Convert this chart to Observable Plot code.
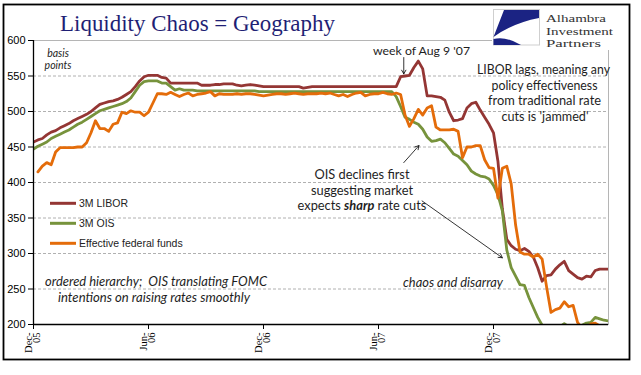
<!DOCTYPE html>
<html>
<head>
<meta charset="utf-8">
<script src="https://cdn.jsdelivr.net/npm/d3@7"></script>
<script src="https://cdn.jsdelivr.net/npm/@observablehq/plot@0.6"></script>
<style>
  html, body { margin: 0; padding: 0; background: #fff; }
  #wrap { position: relative; width: 641px; height: 375px; overflow: hidden; }
  #wrap > svg { position: absolute; left: 0; top: 0; }
  #overlay { pointer-events: none; }
</style>
</head>
<body>
<div id="wrap"></div>
<script>
// ---- data (weekly, basis points) ----
const startDate = new Date(Date.UTC(2005, 11, 16));
const seriesNames = ["3M LIBOR", "3M OIS", "Effective federal funds"];
const seriesColors = ["#943634", "#77933C", "#E46C0A"];

const libor = [
  457,460,462,467,471,473,477,480,483,487,
  490,493,496,500,505,510,512,514,515,517,
  520,524,528,535,543,549,551,551,551,548,
  547,540,540,540,540,540,540,540,537,537,
  537,538,538,539,539,539,537,536,537,538,
  537,536,535,535,535,535,535,535,535,535,
  535,533,534,535,535,535,535,535,535,535,
  535,535,535,535,535,535,535,535,535,535,
  535,535,535,549,550,551,562,571,560,522,
  522,521,520,516,499,487,488,490,505,511,
  513,502,492,482,470,430,363,320,311,306,
  304,307,303,295,280,261,269,270,278,284,
  289,276,271,266,264,268,267,276,278,278,278
];
const ois = [
  447,451,454,457,462,465,468,471,474,478,
  482,485,489,493,497,501,503,505,507,509,
  511,514,519,528,537,542,543,543,543,540,
  540,535,530,532,530,530,530,529,529,529,
  529,529,529,529,529,529,529,529,529,529,
  529,528,528,528,528,528,528,528,528,528,
  528,528,528,528,528,528,528,528,528,528,
  528,528,528,528,528,528,528,528,528,528,
  528,528,521,507,492,489,485,482,475,464,
  458,459,461,456,448,440,437,431,425,416,
  412,409,408,405,396,383,360,305,280,268,
  256,255,238,224,210,199,195,193,196,197,
  201,197,195,197,199,202,203,210,208,206,205
];
const eff = [
  null,415,423,428,425,443,449,449,449,449,
  450,450,456,470,487,476,476,472,482,484,
  499,497,501,499,499,494,499,512,525,525,
  524,527,524,521,524,526,522,524,525,526,
  528,522,525,524,524,524,525,524,525,525,
  524,523,522,523,524,525,525,524,525,526,
  525,524,525,525,525,526,525,526,524,522,
  524,521,524,526,527,522,524,525,525,527,
  525,524,526,524,495,479,490,503,495,505,
  508,478,474,474,474,475,472,435,450,450,
  452,452,432,421,420,378,420,423,398,340,
  302,299,299,295,299,292,253,217,221,223,
  232,225,227,203,195,193,201,202,198,196,195
];
const dates = libor.map((_, i) => d3.utcDay.offset(startDate, 7 * i));

const yTicks = [200, 250, 300, 350, 400, 450, 500, 550, 600];
const yGrid = [250, 300, 350, 400, 450, 500, 550];
const xTicks = [
  new Date(Date.UTC(2005, 11, 16)),
  new Date(Date.UTC(2006, 5, 16)),
  new Date(Date.UTC(2006, 11, 15)),
  new Date(Date.UTC(2007, 5, 15)),
  new Date(Date.UTC(2007, 11, 14))
];

// annotation arrows (data coordinates)
const arrows = [
  {x1: new Date(Date.UTC(2007, 6, 25)), y1: 576, x2: new Date(Date.UTC(2007, 6, 25)), y2: 553},
  {x1: new Date(Date.UTC(2007, 6, 25)), y1: 428, x2: new Date(Date.UTC(2007, 7, 18)), y2: 452},
  {x1: new Date(Date.UTC(2007, 7, 23)), y1: 374, x2: new Date(Date.UTC(2007, 11, 28)), y2: 294}
];

const toRows = arr => arr.map((v, i) => ({date: dates[i], value: v}));

const chart = Plot.plot({
  width: 641,
  height: 375,
  marginLeft: 33,
  marginRight: 33,
  marginTop: 40,
  marginBottom: 51,
  style: {background: "#fff", fontFamily: "Liberation Sans", color: "#000"},
  x: {type: "utc", domain: [dates[0], dates[dates.length - 1]]},
  y: {domain: [200, 600]},
  marks: [
    Plot.frame({stroke: "#b5b5b5", strokeWidth: 1}),
    Plot.gridY(yGrid, {stroke: "#9c9c9c", strokeOpacity: 1, strokeWidth: 0.8, strokeDasharray: "3,2"}),
    Plot.line(toRows(libor), {x: "date", y: "value", stroke: seriesColors[0], strokeWidth: 2.8, clip: true}),
    Plot.line(toRows(ois), {x: "date", y: "value", stroke: seriesColors[1], strokeWidth: 2.8, clip: true}),
    Plot.line(toRows(eff), {x: "date", y: "value", stroke: seriesColors[2], strokeWidth: 2.8, clip: true}),
    Plot.arrow(arrows, {x1: "x1", y1: "y1", x2: "x2", y2: "y2", stroke: "#000", strokeWidth: 0.8, headLength: 8}),
    Plot.ruleY([200], {stroke: "#000", strokeWidth: 1.3}),
    Plot.ruleX([dates[0]], {stroke: "#000", strokeWidth: 1.3}),
    Plot.axisY({ticks: yTicks, tickSize: 5, tickPadding: 3, fontSize: 11, label: null, stroke: "#000"}),
    Plot.axisX({
      ticks: xTicks,
      tickFormat: d3.utcFormat("%b-\n%y"),
      tickRotate: -90,
      tickSize: 5,
      tickPadding: 3,
      fontSize: 10.5,
      fontFamily: "Liberation Serif",
      textAnchor: "end",
      lineAnchor: "middle",
      lineHeight: 0.75,
      label: null,
      stroke: "#000"
    })
  ]
});
document.getElementById("wrap").appendChild(chart);

// ---- overlay: border, title, logo, legend, annotations ----
const ns = "http://www.w3.org/2000/svg";
const ov = document.createElementNS(ns, "svg");
ov.setAttribute("id", "overlay");
ov.setAttribute("width", 641);
ov.setAttribute("height", 375);
ov.innerHTML = `
  <rect x="492" y="6" width="137" height="44" fill="#fff"/>
  <rect x="493.5" y="9.5" width="46" height="35.5" fill="none" stroke="#cfcfcf" stroke-width="1"/>
  <path d="M504,10 L539,10 L539,18 Q513,23 493.5,37 Z" fill="#1B2383"/>
  <path d="M493.5,39 Q506,36 521,45 L493.5,45 Z" fill="#1B2383"/>
  <g font-family="Liberation Serif" font-size="10.5" fill="#333">
    <text x="546" y="22" textLength="60" lengthAdjust="spacingAndGlyphs">Alhambra</text>
    <text x="546" y="34.5" textLength="67" lengthAdjust="spacingAndGlyphs">Investment</text>
    <text x="546" y="47" textLength="55" lengthAdjust="spacingAndGlyphs">Partners</text>
  </g>
  <text x="60" y="30.5" font-family="Liberation Serif" font-size="23" fill="#1F1F75" textLength="275" lengthAdjust="spacingAndGlyphs">Liquidity Chaos = Geography</text>
  <rect x="3.5" y="4.5" width="626" height="355" fill="none" stroke="#000" stroke-width="1.8"/>
  <g font-family="Lato" fill="#1e1e1e" text-anchor="middle">
    <g font-style="italic" font-size="10.5">
      <text x="58" y="57">basis</text>
      <text x="58" y="68.5">points</text>
    </g>
    <text x="421.5" y="54.5" font-size="12" textLength="97" lengthAdjust="spacingAndGlyphs">week of Aug 9 '07</text>
    <g font-size="12.8">
      <text x="543.5" y="74" textLength="133" lengthAdjust="spacingAndGlyphs">LIBOR lags, meaning any</text>
      <text x="544.5" y="89.5" textLength="106" lengthAdjust="spacingAndGlyphs">policy effectiveness</text>
      <text x="544.5" y="105" textLength="113" lengthAdjust="spacingAndGlyphs">from traditional rate</text>
      <text x="545" y="121" textLength="87" lengthAdjust="spacingAndGlyphs">cuts is 'jammed'</text>
    </g>
    <g font-size="12.8">
      <text x="362" y="179">OIS declines first</text>
      <text x="362" y="194.5">suggesting market</text>
      <text x="362" y="210">expects <tspan font-weight="bold" font-style="italic">sharp</tspan> rate cuts</text>
    </g>
    <g font-style="italic" font-size="12.5">
      <text x="156" y="286" textLength="222" lengthAdjust="spacingAndGlyphs" xml:space="preserve">ordered hierarchy;  OIS translating FOMC</text>
      <text x="154" y="301.5" textLength="192" lengthAdjust="spacingAndGlyphs">intentions on raising rates smoothly</text>
      <text x="453" y="287" textLength="100" lengthAdjust="spacingAndGlyphs">chaos and disarray</text>
    </g>
  </g>
`;
// legend
const legendG = document.createElementNS(ns, "g");
seriesNames.forEach((name, i) => {
  const cy = 203.3 + 20 * i;
  const ln = document.createElementNS(ns, "line");
  ln.setAttribute("x1", 50); ln.setAttribute("x2", 76);
  ln.setAttribute("y1", cy); ln.setAttribute("y2", cy);
  ln.setAttribute("stroke", seriesColors[i]);
  ln.setAttribute("stroke-width", 3);
  legendG.appendChild(ln);
  const t = document.createElementNS(ns, "text");
  t.setAttribute("x", 79);
  t.setAttribute("y", cy + 4);
  t.setAttribute("font-family", "Liberation Sans");
  t.setAttribute("font-size", 10.5);
  t.setAttribute("fill", "#222");
  t.textContent = name;
  legendG.appendChild(t);
});
ov.appendChild(legendG);
document.getElementById("wrap").appendChild(ov);
</script>
</body>
</html>
